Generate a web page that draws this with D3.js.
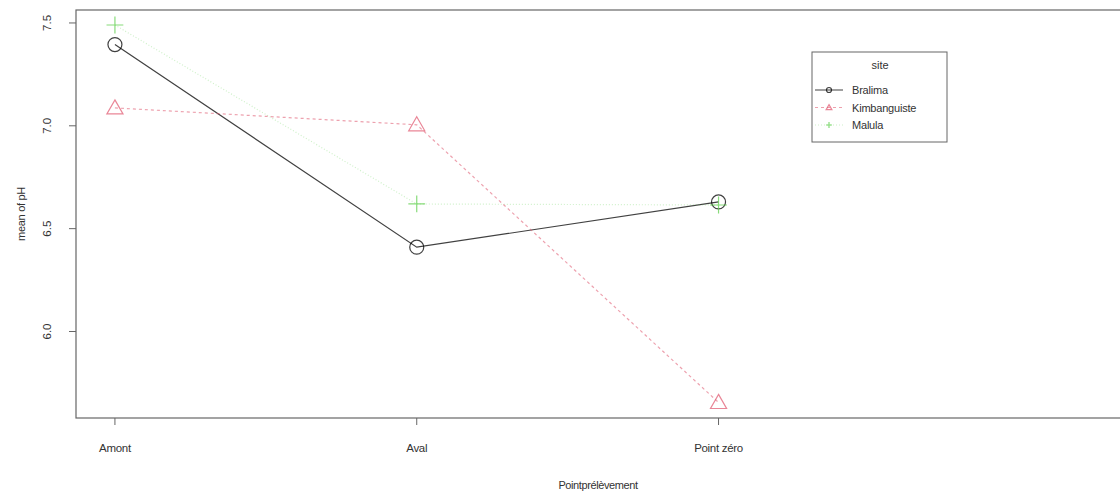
<!DOCTYPE html>
<html>
<head>
<meta charset="utf-8">
<script src="https://cdn.jsdelivr.net/npm/d3@7"></script>
<style>
  body { margin: 0; background: #fff; }
  text { font-family: "Liberation Sans", Arial, sans-serif; fill: #333; }
</style>
</head>
<body>
<svg id="chart" width="1120" height="495"></svg>
<script>
// levels of the x factor
var points = ['Amont', 'Aval', 'Point zéro'];
// mean pH per site, one value per level of points
var bralima = [7.395, 6.41, 6.63];
var kimbanguiste = [7.087, 7.005, 5.655];
var malula = [7.49, 6.62, 6.615];
var siteNames = ['Bralima', 'Kimbanguiste', 'Malula'];
var yTicks = [6.0, 6.5, 7.0, 7.5];

var series = [
    {name: siteNames[0], values: bralima, color: '#000000', dash: null, pch: 'circle', lineOp: 0.75, symOp: 0.75},
    {name: siteNames[1], values: kimbanguiste, color: '#DF536B', dash: '3,3', pch: 'triangle', lineOp: 0.55, symOp: 0.7},
    {name: siteNames[2], values: malula, color: '#61D04F', dash: '1,2', pch: 'plus', lineOp: 0.3, symOp: 0.75}
];

var svg = d3.select('#chart');
var plotLeft = 76, plotTop = 10, plotBottom = 418, plotRight = 1129;

// index 1..3 with extra room on the right for the legend (as in R)
var x = d3.scaleLinear().domain([0.871, 4.36]).range([plotLeft, plotRight]);
var y = d3.scaleLinear().domain([5.5795, 7.563]).range([plotBottom, plotTop]);

//plot box
svg.append('rect')
    .attr('x', plotLeft).attr('y', plotTop)
    .attr('width', plotRight - plotLeft).attr('height', plotBottom - plotTop)
    .attr('fill', 'none').attr('stroke', '#666').attr('stroke-width', 1.2);

//x axis ticks
var xg = svg.append('g');
points.forEach(function (p, i) {
    xg.append('line')
        .attr('x1', x(i + 1)).attr('x2', x(i + 1))
        .attr('y1', plotBottom).attr('y2', plotBottom + 7)
        .attr('stroke', '#666');
    xg.append('text')
        .attr('x', x(i + 1)).attr('y', 452)
        .attr('text-anchor', 'middle')
        .attr('font-size', 11.5)
        .attr('letter-spacing', -0.3)
        .text(p);
});

//y axis ticks, labels rotated like R las=0
var yg = svg.append('g');
yTicks.forEach(function (t) {
    yg.append('line')
        .attr('x1', plotLeft - 7).attr('x2', plotLeft)
        .attr('y1', y(t)).attr('y2', y(t))
        .attr('stroke', '#666');
    yg.append('text')
        .attr('transform', 'translate(51,' + y(t) + ') rotate(-90)')
        .attr('text-anchor', 'middle')
        .attr('font-size', 11.5)
        .text(t.toFixed(1));
});

svg.append('text')
    .attr('transform', 'translate(25,' + ((plotTop + plotBottom) / 2) + ') rotate(-90)')
    .attr('text-anchor', 'middle')
    .attr('font-size', 11)
    .attr('letter-spacing', -0.3)
    .text('mean of pH');

svg.append('text')
    .attr('x', 598).attr('y', 489)
    .attr('text-anchor', 'middle')
    .attr('font-size', 11)
    .attr('letter-spacing', -0.4)
    .text('Pointprélèvement');

function drawSymbol(g, type, cx, cy, r, color, op) {
    if (type == 'circle') {
        g.append('circle').attr('cx', cx).attr('cy', cy).attr('r', r)
            .attr('fill', 'none').attr('stroke', color).attr('stroke-width', 1.2)
            .attr('opacity', op);
    } else if (type == 'triangle') {
        var h = r * 1.15;
        g.append('path')
            .attr('d', 'M' + cx + ',' + (cy - h) + 'L' + (cx + h) + ',' + (cy + h * 0.75) +
                'L' + (cx - h) + ',' + (cy + h * 0.75) + 'Z')
            .attr('fill', 'none').attr('stroke', color).attr('stroke-width', 1.2)
            .attr('opacity', op);
    } else {
        var p = r * 1.2;
        g.append('path')
            .attr('d', 'M' + (cx - p) + ',' + cy + 'H' + (cx + p) + 'M' + cx + ',' + (cy - p) + 'V' + (cy + p))
            .attr('stroke', color).attr('stroke-width', 1.2)
            .attr('opacity', op);
    }
}

var line = d3.line()
    .x(function (d, i) { return x(i + 1); })
    .y(function (d) { return y(d); });

//draw lines first then symbols
series.forEach(function (s) {
    var g = svg.append('g');
    g.append('path')
        .attr('d', line(s.values))
        .attr('fill', 'none')
        .attr('stroke', s.color)
        .attr('stroke-width', 1.2)
        .attr('stroke-dasharray', s.dash)
        .attr('opacity', s.lineOp);
    s.values.forEach(function (v, i) {
        drawSymbol(g, s.pch, x(i + 1), y(v), 7, s.color, s.symOp);
    });
});

//legend
var lg = svg.append('g');
lg.append('rect')
    .attr('x', 812).attr('y', 52).attr('width', 135).attr('height', 90)
    .attr('fill', '#fff').attr('stroke', '#666');
lg.append('text')
    .attr('x', 880).attr('y', 69).attr('text-anchor', 'middle')
    .attr('font-size', 11).text('site');
series.forEach(function (s, i) {
    var ly = 90 + i * 17.5;
    lg.append('line')
        .attr('x1', 815).attr('x2', 843)
        .attr('y1', ly).attr('y2', ly)
        .attr('stroke', s.color)
        .attr('stroke-dasharray', s.dash)
        .attr('opacity', s.lineOp);
    drawSymbol(lg, s.pch, 829, ly, 2.5, s.color, s.symOp);
    lg.append('text')
        .attr('x', 852).attr('y', ly + 4)
        .attr('font-size', 11)
        .attr('letter-spacing', -0.2)
        .text(s.name);
});
</script>
</body>
</html>
